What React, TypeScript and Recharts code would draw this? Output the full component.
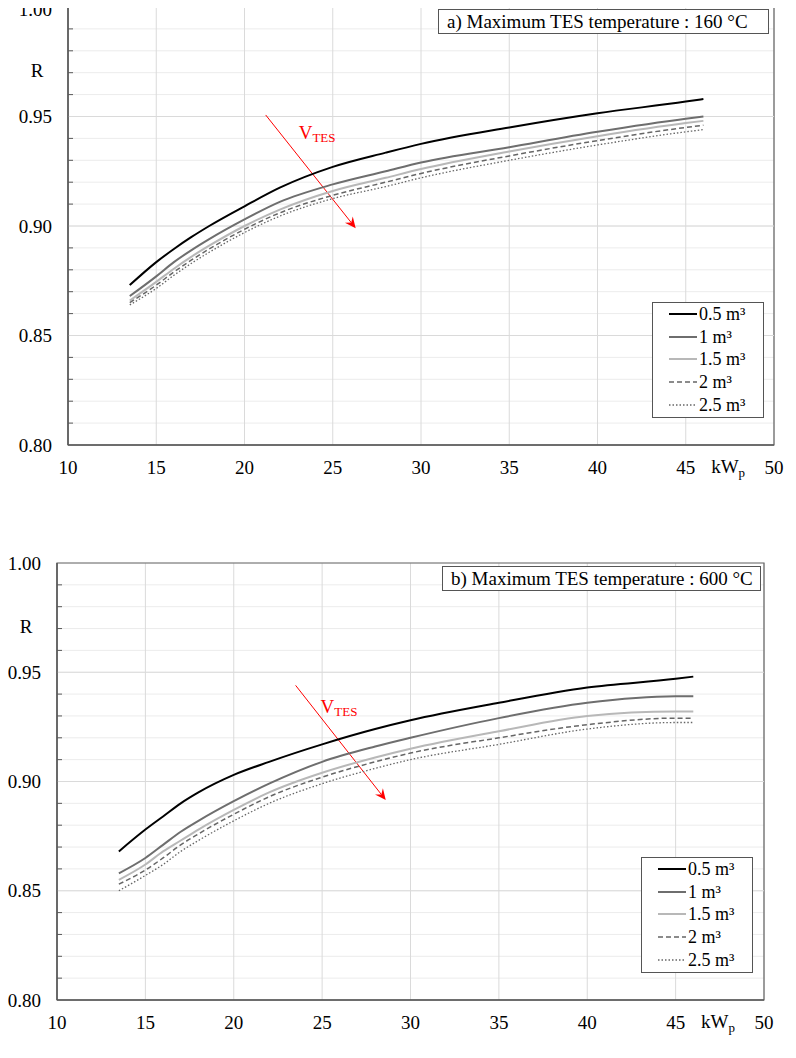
import React from "react"
import {
  LineChart,
  Line,
  XAxis,
  YAxis,
  CartesianGrid,
  ReferenceLine,
  ReferenceArea,
  Legend,
} from "recharts"

// kWp values where the curves are sampled
const kwp = [13.5, 15, 16, 17, 18, 20, 22, 25, 28, 30, 35, 40, 45, 46]

// a) max TES temperature 160 °C
const topV05 = [0.873, 0.8835, 0.8895, 0.895, 0.900, 0.909, 0.9175, 0.927, 0.9335, 0.9375, 0.945, 0.9515, 0.9568, 0.958]
const topV1 = [0.868, 0.877, 0.8835, 0.889, 0.894, 0.903, 0.911, 0.919, 0.925, 0.929, 0.936, 0.943, 0.949, 0.950]
const topV15 = [0.866, 0.8745, 0.8805, 0.886, 0.891, 0.900, 0.9075, 0.916, 0.922, 0.926, 0.934, 0.941, 0.947, 0.948]
const topV2 = [0.865, 0.873, 0.879, 0.8845, 0.8895, 0.8985, 0.906, 0.914, 0.920, 0.924, 0.932, 0.939, 0.945, 0.946]
const topV25 = [0.864, 0.8715, 0.8775, 0.883, 0.888, 0.897, 0.9045, 0.9125, 0.918, 0.922, 0.930, 0.937, 0.943, 0.944]

// b) max TES temperature 600 °C
const botV05 = [0.868, 0.878, 0.884, 0.890, 0.895, 0.903, 0.909, 0.917, 0.924, 0.928, 0.936, 0.943, 0.947, 0.948]
const botV1 = [0.858, 0.865, 0.871, 0.877, 0.882, 0.891, 0.899, 0.909, 0.916, 0.920, 0.929, 0.936, 0.939, 0.939]
const botV15 = [0.855, 0.862, 0.868, 0.873, 0.878, 0.887, 0.895, 0.904, 0.911, 0.915, 0.923, 0.930, 0.932, 0.932]
const botV2 = [0.853, 0.8595, 0.865, 0.871, 0.876, 0.885, 0.893, 0.902, 0.909, 0.913, 0.920, 0.926, 0.929, 0.929]
const botV25 = [0.850, 0.857, 0.862, 0.868, 0.873, 0.882, 0.890, 0.899, 0.906, 0.910, 0.917, 0.924, 0.927, 0.927]

const xTicks = [10, 15, 20, 25, 30, 35, 40, 45, 50]
const yTicks = [
  0.8, 0.81, 0.82, 0.83, 0.84, 0.85, 0.86, 0.87, 0.88, 0.89, 0.9,
  0.91, 0.92, 0.93, 0.94, 0.95, 0.96, 0.97, 0.98, 0.99, 1.0,
]
const yMajor = [0.85, 0.9, 0.95]

const serif = '"Liberation Serif", "Times New Roman", serif'

const series = [
  { key: "v05", name: "0.5 m³", stroke: "#000000", width: 2, dash: undefined },
  { key: "v1", name: "1 m³", stroke: "#6e6e6e", width: 2, dash: undefined },
  { key: "v15", name: "1.5 m³", stroke: "#b8b8b8", width: 2, dash: undefined },
  { key: "v2", name: "2 m³", stroke: "#666666", width: 1.5, dash: "5 3" },
  { key: "v25", name: "2.5 m³", stroke: "#666666", width: 1.3, dash: "1.5 2" },
]

function buildRows(v05: number[], v1: number[], v15: number[], v2: number[], v25: number[]) {
  return kwp.map((x, i) => ({ x, v05: v05[i], v1: v1[i], v15: v15[i], v2: v2[i], v25: v25[i] }))
}

const topData = buildRows(topV05, topV1, topV15, topV2, topV25)
const botData = buildRows(botV05, botV1, botV15, botV2, botV25)

function YTick(props: any) {
  const { x, y, payload } = props
  const v = payload.value as number
  const major = Math.round(v * 100) % 5 === 0
  if (!major) {
    return <line x1={x} x2={x + 5} y1={y} y2={y} stroke="#595959" strokeWidth={1} />
  }
  // keep the top label inside the page
  const dy = y < 12 ? 9 : 6.5
  return (
    <text x={x - 16} y={y} dy={dy} textAnchor="end" fontFamily={serif} fontSize={19} fill="#000">
      {v.toFixed(2)}
    </text>
  )
}

function XTick(props: any) {
  const { x, y, payload } = props
  return (
    <text x={x} y={y + 29} textAnchor="middle" fontFamily={serif} fontSize={19} fill="#000">
      {payload.value}
    </text>
  )
}

function ArrowShape(props: any) {
  const { x1, y1, x2, y2, tx, ty } = props
  const ang = Math.atan2(y2 - y1, x2 - x1)
  const c = Math.cos(ang)
  const s = Math.sin(ang)
  const L = 11
  const W = 5
  const bx = x2 - L * c
  const by = y2 - L * s
  const nx = x2 - L * 0.65 * c
  const ny = y2 - L * 0.65 * s
  return (
    <g>
      <line x1={x1} y1={y1} x2={nx} y2={ny} stroke="#ff0000" strokeWidth={1} />
      <path
        d={`M${x2},${y2} L${bx - W * s},${by + W * c} L${nx},${ny} L${bx + W * s},${by - W * c} Z`}
        fill="#ff0000"
      />
      <text x={x1 + tx} y={y1 + ty} fontFamily={serif} fill="#ff0000" fontSize={19}>
        V<tspan fontSize={13} dy={3}>TES</tspan>
      </text>
    </g>
  )
}

function LegendBox() {
  return (
    <div
      style={{
        width: 112,
        height: 116,
        boxSizing: "border-box",
        border: "1px solid #555",
        background: "#fff",
        position: "relative",
        fontFamily: serif,
        fontSize: 18,
        color: "#000",
      }}
    >
      {series.map((s, i) => (
        <div
          key={s.key}
          style={{ position: "absolute", left: 16, top: i * 22.7, height: 22, display: "flex", alignItems: "center" }}
        >
          <svg width={28} height={10} style={{ display: "block" }}>
            <line x1={0} x2={28} y1={5} y2={5} stroke={s.stroke} strokeWidth={s.width} strokeDasharray={s.dash} />
          </svg>
          <span style={{ marginLeft: 2, whiteSpace: "nowrap", lineHeight: "22px" }}>{s.name}</span>
        </div>
      ))}
    </div>
  )
}

interface PanelProps {
  data: any[]
  title: string
  height: number
  yWidth: number
  marginTop: number
  marginRight: number
  xHeight: number
  legendPos: { left: number; top: number }
  titleBox: { left: number; top: number; width: number }
  arrow: { x1: number; y1: number; x2: number; y2: number; tx: number; ty: number }
}

function Panel(p: PanelProps) {
  return (
    <div style={{ position: "relative", width: 796, height: p.height }}>
      <LineChart
        width={796}
        height={p.height}
        data={p.data}
        margin={{ top: p.marginTop, right: p.marginRight, bottom: 0, left: 0 }}
      >
        <CartesianGrid vertical={false} stroke="#ececec" strokeWidth={1} />
        <CartesianGrid horizontal={false} stroke="#dadada" strokeWidth={1} />
        {yMajor.map((v) => (
          <ReferenceLine key={v} y={v} stroke="#dadada" strokeWidth={1} />
        ))}
        <XAxis
          type="number"
          dataKey="x"
          domain={[10, 50]}
          ticks={xTicks}
          interval={0}
          height={p.xHeight}
          tickSize={0}
          tickMargin={0}
          tick={<XTick />}
          axisLine={{ stroke: "#595959", strokeWidth: 1.5 }}
          tickLine={false}
          label={{
            content: (lp: any) => {
              const vb = lp.viewBox
              return (
                <text x={vb.x + vb.width * 0.935} y={vb.y + 28} textAnchor="middle" fontFamily={serif} fontSize={19}>
                  kW<tspan fontSize={13} dy={4}>p</tspan>
                </text>
              )
            },
          }}
        />
        <YAxis
          type="number"
          domain={[0.8, 1.0]}
          ticks={yTicks}
          interval={0}
          width={p.yWidth}
          tickSize={0}
          tickMargin={0}
          tick={<YTick />}
          axisLine={{ stroke: "#595959", strokeWidth: 1.5 }}
          tickLine={false}
          label={{
            content: (lp: any) => {
              const vb = lp.viewBox
              return (
                <text x={vb.x + vb.width - 31} y={vb.y + 70} textAnchor="middle" fontFamily={serif} fontSize={19}>
                  R
                </text>
              )
            },
          }}
        />
        <ReferenceArea x1={10} x2={50} y1={0.8} y2={1.0} fill="none" stroke="#666" strokeWidth={1.2} />
        <ReferenceLine
          segment={[
            { x: p.arrow.x1, y: p.arrow.y1 },
            { x: p.arrow.x2, y: p.arrow.y2 },
          ]}
          stroke="#ff0000"
          shape={(sp: any) => <ArrowShape {...sp} tx={p.arrow.tx} ty={p.arrow.ty} />}
        />
        {series.map((s) => (
          <Line
            key={s.key}
            type="monotone"
            dataKey={s.key}
            name={s.name}
            stroke={s.stroke}
            strokeWidth={s.width}
            strokeDasharray={s.dash}
            dot={false}
            activeDot={false}
            isAnimationActive={false}
          />
        ))}
        <Legend
          layout="horizontal"
          verticalAlign="middle"
          align="center"
          content={() => <LegendBox />}
          wrapperStyle={{ left: p.legendPos.left, top: p.legendPos.top, width: 112, height: 116 }}
        />
      </LineChart>
      <div
        style={{
          position: "absolute",
          left: p.titleBox.left,
          top: p.titleBox.top,
          width: p.titleBox.width,
          height: 25,
          boxSizing: "border-box",
          border: "1px solid #555",
          background: "#fff",
          fontFamily: serif,
          fontSize: 19,
          lineHeight: "23px",
          paddingLeft: 8,
          whiteSpace: "nowrap",
          color: "#000",
        }}
      >
        {p.title}
      </div>
    </div>
  )
}

export default function App() {
  return (
    <div style={{ position: "relative", width: 796, height: 1058, margin: -8, background: "#fff" }}>
      <div style={{ position: "absolute", left: 0, top: 0 }}>
        <Panel
          data={topData}
          title="a) Maximum TES temperature : 160 °C"
          height={500}
          yWidth={68}
          marginTop={7}
          marginRight={22}
          xHeight={55}
          legendPos={{ left: 652, top: 302 }}
          titleBox={{ left: 438, top: 9, width: 331 }}
          arrow={{ x1: 21.2, y1: 0.9507, x2: 26.3, y2: 0.899, tx: 33, ty: 24 }}
        />
      </div>
      <div style={{ position: "absolute", left: 0, top: 540 }}>
        <Panel
          data={botData}
          title="b) Maximum TES temperature : 600 °C"
          height={518}
          yWidth={57}
          marginTop={23}
          marginRight={32}
          xHeight={58}
          legendPos={{ left: 641, top: 317 }}
          titleBox={{ left: 442, top: 26, width: 319 }}
          arrow={{ x1: 23.5, y1: 0.944, x2: 28.6, y2: 0.8915, tx: 25, ty: 28 }}
        />
      </div>
    </div>
  )
}
